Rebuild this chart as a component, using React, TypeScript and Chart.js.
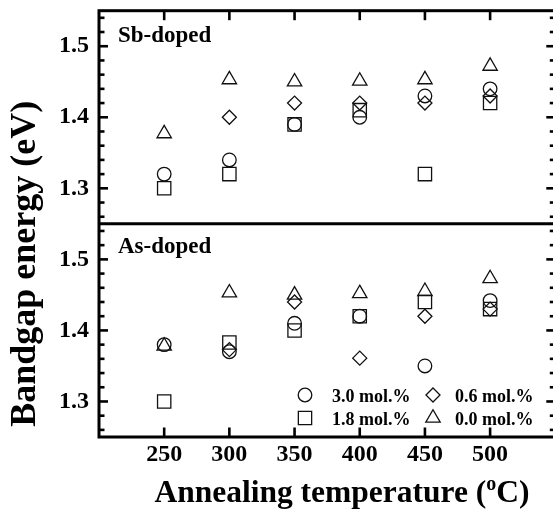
import React, { useEffect, useRef } from 'react';
import { Chart, registerables } from 'chart.js';

Chart.register(...registerables);

// ---------------- data ----------------
const temperatures = [250, 300, 350, 400, 450, 500];

// Sb-doped panel
const sb30 = [1.32, 1.34, 1.39, 1.40, 1.43, 1.44];
const sb18 = [1.30, 1.32, 1.39, 1.41, 1.32, 1.42];
const sb06 = [null, 1.40, 1.42, 1.42, 1.42, 1.43];
const sb00 = [1.377, 1.453, 1.45, 1.451, 1.453, 1.472];

// As-doped panel
const as30 = [1.38, 1.37, 1.41, 1.42, 1.35, 1.442];
const as18 = [1.30, 1.383, 1.40, 1.42, 1.44, 1.43];
const as06 = [null, 1.373, 1.44, 1.361, 1.42, 1.43];
const as00 = [1.378, 1.453, 1.45, 1.452, 1.455, 1.473];

const seriesLabels = ['3.0 mol.%', '1.8 mol.%', '0.6 mol.%', '0.0 mol.%'];
const panelLabels = ['Sb-doped', 'As-doped'];
const xTicks = [250, 300, 350, 400, 450, 500];
const yMajorTicks = [1.3, 1.4, 1.5];
const yMinorTicks = [1.26, 1.28, 1.32, 1.34, 1.36, 1.38, 1.42, 1.44, 1.46, 1.48, 1.52, 1.54];
const xTitle = 'Annealing temperature (';
const xTitleSup = 'o';
const xTitleEnd = 'C)';
const yTitle = 'Bandgap energy (eV)';

// ---------------- styles ----------------
const FONT = "'Liberation Serif', 'Times New Roman', serif";
const INK = '#111';
const markers = [
  { style: 'circle', r: 6.8 },
  { style: 'rect', r: 9.4 },
  { style: 'rectRot', r: 7 },
  { style: 'triangle', r: 8.3 },
];

function toPoints(vals: (number | null)[]) {
  const out: { x: number; y: number }[] = [];
  vals.forEach((v, i) => {
    if (v !== null) out.push({ x: temperatures[i], y: v });
  });
  return out;
}

function drawMarker(ctx: CanvasRenderingContext2D, style: string, x: number, y: number, r: number) {
  ctx.beginPath();
  if (style === 'circle') {
    ctx.arc(x, y, r, 0, Math.PI * 2);
  } else if (style === 'rect') {
    const s = Math.SQRT1_2 * r;
    ctx.rect(x - s, y - s, 2 * s, 2 * s);
  } else if (style === 'rectRot') {
    ctx.moveTo(x - r, y);
    ctx.lineTo(x, y - r);
    ctx.lineTo(x + r, y);
    ctx.lineTo(x, y + r);
    ctx.closePath();
  } else if (style === 'triangle') {
    const a = (2 * Math.PI) / 3;
    ctx.moveTo(x, y - r);
    ctx.lineTo(x + Math.sin(a) * r, y - Math.cos(a) * r);
    ctx.lineTo(x + Math.sin(2 * a) * r, y - Math.cos(2 * a) * r);
    ctx.closePath();
  }
  ctx.stroke();
}

const framePlugin = {
  id: 'frameAndText',
  afterDraw(chart: any) {
    const ctx: CanvasRenderingContext2D = chart.ctx;
    const ca = chart.chartArea;
    const xs = chart.scales.x;
    const ySb = chart.scales.ySb;
    const yAs = chart.scales.yAs;
    const topSc = ySb.top < yAs.top ? ySb : yAs;
    const botSc = topSc === ySb ? yAs : ySb;
    ctx.save();
    ctx.strokeStyle = '#000';
    ctx.lineCap = 'butt';

    const line = (x1: number, y1: number, x2: number, y2: number) => {
      ctx.beginPath();
      ctx.moveTo(x1, y1);
      ctx.lineTo(x2, y2);
      ctx.stroke();
    };

    // frame
    ctx.lineWidth = 3;
    ctx.strokeRect(ca.left, ca.top, ca.right - ca.left, ca.bottom - ca.top);
    const div = (topSc.bottom + botSc.top) / 2;
    line(ca.left, div, ca.right, div);

    // y ticks (inward, both sides)
    ctx.lineWidth = 2.6;
    [ySb, yAs].forEach((sc: any) => {
      yMajorTicks.forEach((v) => {
        const py = sc.getPixelForValue(v);
        line(ca.left, py, ca.left + 9, py);
        line(ca.right, py, ca.right - 9, py);
      });
      yMinorTicks.forEach((v) => {
        const py = sc.getPixelForValue(v);
        line(ca.left, py, ca.left + 5.5, py);
        line(ca.right, py, ca.right - 5.5, py);
      });
    });
    // x ticks (inward, top and bottom)
    xTicks.forEach((v) => {
      const px = xs.getPixelForValue(v);
      line(px, ca.top, px, ca.top + 9.5);
      line(px, ca.bottom, px, ca.bottom - 9.5);
    });

    // panel labels
    ctx.fillStyle = '#000';
    ctx.font = `bold 23px ${FONT}`;
    ctx.textAlign = 'left';
    ctx.textBaseline = 'alphabetic';
    ctx.fillText(panelLabels[0], ca.left + 19, ySb.top + 31);
    ctx.fillText(panelLabels[1], ca.left + 19, yAs.top + 29);

    // legend (inside As-doped panel)
    ctx.lineWidth = 1.3;
    ctx.strokeStyle = INK;
    ctx.font = `bold 18px ${FONT}`;
    const legendCols = [ca.left + 206, ca.left + 334];
    const legendRows = [yAs.bottom - 42, yAs.bottom - 19];
    const order = [0, 2, 1, 3];
    order.forEach((s, k) => {
      const col = k % 2;
      const row = Math.floor(k / 2);
      const lx = legendCols[col];
      const ly = legendRows[row];
      drawMarker(ctx, markers[s].style, lx, ly, markers[s].r);
      ctx.fillText(seriesLabels[s], lx + 27 - (col === 1 ? 5 : 0), ly + 6.5);
    });

    // x title with superscript
    const big = 31.5;
    const small = 20;
    ctx.font = `bold ${big}px ${FONT}`;
    const w1 = ctx.measureText(xTitle).width;
    const w3 = ctx.measureText(xTitleEnd).width;
    ctx.font = `bold ${small}px ${FONT}`;
    const w2 = ctx.measureText(xTitleSup).width;
    const total = w1 + w2 + w3;
    const cx = 342;
    let tx = cx - total / 2;
    const by = 502;
    ctx.font = `bold ${big}px ${FONT}`;
    ctx.fillText(xTitle, tx, by);
    tx += w1;
    ctx.font = `bold ${small}px ${FONT}`;
    ctx.fillText(xTitleSup, tx, by - 12);
    tx += w2;
    ctx.font = `bold ${big}px ${FONT}`;
    ctx.fillText(xTitleEnd, tx, by);

    // y title
    ctx.save();
    ctx.translate(35, (ca.top + ca.bottom) / 2 + 40);
    ctx.rotate(-Math.PI / 2);
    ctx.font = `bold 36px ${FONT}`;
    ctx.textAlign = 'center';
    ctx.fillText(yTitle, 0, 0);
    ctx.restore();

    ctx.restore();
  },
};

export default function App() {
  const ref = useRef<HTMLCanvasElement | null>(null);

  useEffect(() => {
    if (!ref.current) return;
    const panels = [
      { axis: 'ySb', series: [sb30, sb18, sb06, sb00] },
      { axis: 'yAs', series: [as30, as18, as06, as00] },
    ];
    const datasets: any[] = [];
    panels.forEach((p) => {
      p.series.forEach((vals, s) => {
        datasets.push({
          label: `${p.axis} ${seriesLabels[s]}`,
          data: toPoints(vals),
          yAxisID: p.axis,
          xAxisID: 'x',
          pointStyle: markers[s].style,
          pointRadius: markers[s].r,
          pointHoverRadius: markers[s].r,
          pointBorderWidth: 1.3,
          borderColor: INK,
          backgroundColor: 'rgba(0,0,0,0)',
          showLine: false,
        });
      });
    });

    const tickFont = { family: FONT, size: 24, weight: 'bold' as const };
    const yScale = () => ({
      type: 'linear' as const,
      position: 'left' as const,
      stack: 'panels',
      stackWeight: 1,
      min: 1.25,
      max: 1.55,
      afterBuildTicks: (sc: any) => {
        sc.ticks = yMajorTicks.map((v) => ({ value: v }));
      },
      afterFit: (sc: any) => {
        sc.width = 99;
        sc.paddingTop = 0;
        sc.paddingBottom = 0;
      },
      ticks: {
        font: tickFont,
        color: '#000',
        padding: 10,
        callback: (v: any) => Number(v).toFixed(1),
      },
      grid: { display: false, drawTicks: false },
      border: { display: false },
    });

    const chart = new Chart(ref.current, {
      type: 'scatter',
      data: { datasets },
      options: {
        responsive: false,
        animation: false,
        layout: { padding: { left: 0, top: 10, right: 5, bottom: 0 } },
        plugins: {
          legend: { display: false },
          tooltip: { enabled: false },
        },
        scales: {
          x: {
            type: 'linear',
            position: 'bottom',
            min: 200,
            max: 550,
            afterBuildTicks: (sc: any) => {
              sc.ticks = xTicks.map((v) => ({ value: v }));
            },
            afterFit: (sc: any) => {
              sc.height = 73;
              sc.paddingLeft = 0;
              sc.paddingRight = 0;
            },
            ticks: {
              font: tickFont,
              color: '#000',
              padding: 3,
              maxRotation: 0,
              autoSkip: false,
              callback: (v: any) => String(v),
            },
            grid: { display: false, drawTicks: false },
            border: { display: false },
          },
          // declared bottom-first: the later stacked axis is placed on top
          yAs: yScale(),
          ySb: yScale(),
        },
      } as any,
      plugins: [framePlugin],
    });
    return () => chart.destroy();
  }, []);

  return (
    <div
      style={{
        position: 'fixed',
        left: 0,
        top: 0,
        width: 553,
        height: 510,
        overflow: 'hidden',
        background: '#fff',
      }}
    >
      <canvas ref={ref} width={566} height={510} style={{ display: 'block' }} />
    </div>
  );
}
